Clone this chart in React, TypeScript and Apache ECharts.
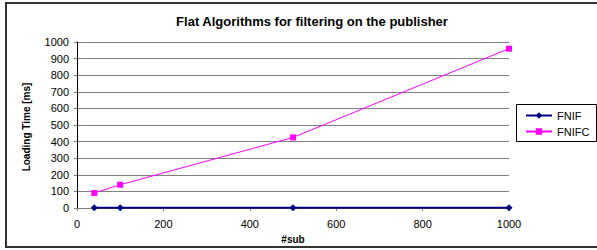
import React, { useEffect, useRef } from "react";
import * as echarts from "echarts";

const xValues = [40, 100, 500, 1000];
const fnif = [1, 1, 1, 1];
const fnifc = [90, 140, 425, 960];
const titleText = "Flat Algorithms for filtering on the publisher";
const xName = "#sub";
const yName = "Loading Time [ms]";

export default function App() {
  const ref = useRef<HTMLDivElement>(null);
  useEffect(() => {
    const chart = echarts.init(ref.current!, null, { renderer: "svg" });
    const font = "Arial, 'Liberation Sans', sans-serif";
    chart.setOption({
      animation: false,
      backgroundColor: "#ffffff",
      title: {
        text: titleText,
        left: 307,
        top: 10,
        textAlign: "center",
        textStyle: { fontFamily: font, fontSize: 13, fontWeight: "bold", color: "#000" },
      },
      graphic: [
        {
          type: "rect",
          shape: { x: 6, y: 3, width: 600, height: 244 },
          style: { fill: "none", stroke: "#333", lineWidth: 2 },
          z: -1,
        },
        {
          type: "rect",
          shape: { x: 516.5, y: 104.5, width: 80, height: 37 },
          style: { fill: "#fff", stroke: "#000", lineWidth: 1 },
          z: 0,
        },
        {
          type: "text",
          x: 293,
          y: 239,
          style: { text: xName, font: `bold 10px ${font}`, fill: "#000", align: "center", verticalAlign: "middle" },
        },
        {
          type: "text",
          x: 26,
          y: 127,
          rotation: Math.PI / 2,
          style: { text: yName, font: `bold 10px ${font}`, fill: "#000", align: "center", verticalAlign: "middle" },
        },
      ],
      legend: {
        orient: "vertical",
        left: 520,
        top: 105,
        itemWidth: 26,
        itemHeight: 8,
        itemGap: 5,
        z: 5,
        textStyle: { fontFamily: font, fontSize: 11, color: "#000" },
        data: ["FNIF", "FNIFC"],
      },
      grid: { left: 77, right: 88, top: 42, bottom: 42 },
      xAxis: {
        type: "value",
        min: 0,
        max: 1000,
        interval: 200,
        axisLine: { lineStyle: { color: "#808080", width: 1 } },
        axisTick: { show: true, length: 3, lineStyle: { color: "#808080" } },
        splitLine: { show: false },
        axisLabel: { fontFamily: font, fontSize: 11, color: "#000", margin: 10, formatter: (v: number) => String(v) },
      },
      yAxis: {
        type: "value",
        min: 0,
        max: 1000,
        interval: 100,
        axisLine: { show: true, lineStyle: { color: "#000", width: 1 } },
        axisTick: { show: true, length: 3, lineStyle: { color: "#808080" } },
        splitLine: { show: true, lineStyle: { color: "#808080", width: 1 } },
        axisLabel: { fontFamily: font, fontSize: 11, color: "#000", margin: 8, formatter: (v: number) => String(v) },
      },
      series: [
        {
          name: "FNIF",
          type: "line",
          data: xValues.map((x, i) => [x, fnif[i]]),
          symbol: "diamond",
          symbolSize: 7,
          itemStyle: { color: "#000080" },
          lineStyle: { color: "#000080", width: 2 },
          z: 4,
        },
        {
          name: "FNIFC",
          type: "line",
          data: xValues.map((x, i) => [x, fnifc[i]]),
          symbol: "rect",
          symbolSize: 6,
          itemStyle: { color: "#ff00ff" },
          lineStyle: { color: "#ff00ff", width: 1 },
          z: 3,
        },
      ],
    });
    return () => chart.dispose();
  }, []);
  return (
    <div
      ref={ref}
      style={{ position: "absolute", left: 0, top: 0, width: 597, height: 250 }}
    />
  );
}
